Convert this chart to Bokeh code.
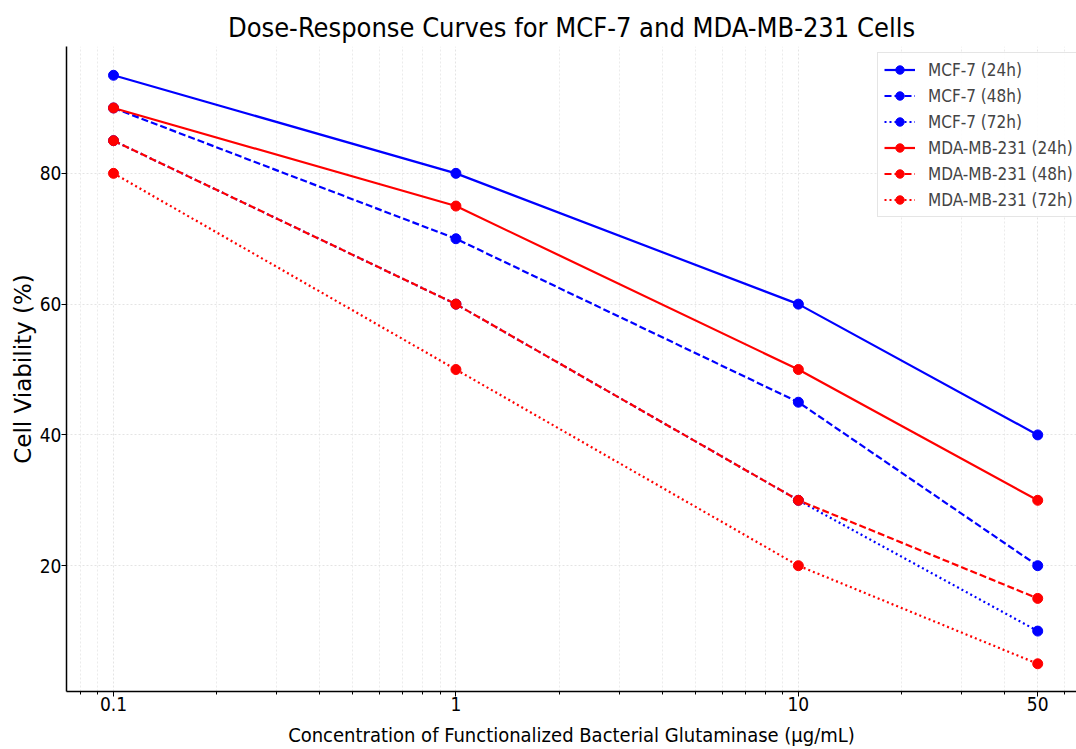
from bokeh.plotting import figure
from bokeh.models import FixedTicker, Legend, LegendItem, Range1d
from bokeh.embed import file_html
from bokeh.resources import INLINE

concentrations = [0.1, 1, 10, 50]
mcf7_24h = [95, 80, 60, 40]
mcf7_48h = [90, 70, 45, 20]
mcf7_72h = [85, 60, 30, 10]
mda_24h = [90, 75, 50, 30]
mda_48h = [85, 60, 30, 15]
mda_72h = [80, 50, 20, 5]

x_ticks = [0.1, 1, 10, 50]
x_tick_labels = ["0.1", "1", "10", "50"]
x_minor = [0.08, 0.09, 0.2, 0.3, 0.4, 0.5, 0.6, 0.7, 0.8, 0.9,
           2, 3, 4, 5, 6, 7, 8, 9, 20, 30, 40, 60]
y_ticks = [20, 40, 60, 80]

series = [
    ("MCF-7 (24h)", mcf7_24h, "#0000ff", "solid"),
    ("MCF-7 (48h)", mcf7_48h, "#0000ff", "7 3"),
    ("MCF-7 (72h)", mcf7_72h, "#0000ff", "2 3"),
    ("MDA-MB-231 (24h)", mda_24h, "#ff0000", "solid"),
    ("MDA-MB-231 (48h)", mda_48h, "#ff0000", "7 3"),
    ("MDA-MB-231 (72h)", mda_72h, "#ff0000", "2 3"),
]

FONT = "DejaVu Sans Condensed"
FONT_V = "DejaVu Sans"

p = figure(width=1076, height=749, x_axis_type="log",
           x_range=Range1d(0.0729, 64.9), y_range=Range1d(0.76, 99.4),
           output_backend="svg", toolbar_location=None,
           title="Dose-Response Curves for MCF-7 and MDA-MB-231 Cells",
           min_border_left=66, min_border_top=46, min_border_right=0,
           min_border_bottom=57)

p.title.text_font = FONT
p.title.text_font_size = "27px"
p.title.text_font_style = "normal"
p.title.align = "center"
p.title.text_color = "#000000"
p.title.standoff = 8

p.outline_line_color = None

items = []
for label, ys, color, dash in series:
    r1 = p.line(concentrations, ys, line_color=color, line_width=2.2, line_dash=dash)
    r2 = p.scatter(concentrations, ys, size=10, fill_color=color, line_color=color)
    items.append(LegendItem(label=label, renderers=[r1, r2]))

legend = Legend(items=items, location=(811, 474))
legend.label_text_font = FONT
legend.label_text_font_size = "17px"
legend.glyph_width = 31
legend.glyph_height = 21
legend.label_height = 21
legend.spacing = 5
legend.padding = 6
legend.margin = 0
legend.border_line_color = "#cccccc"
legend.border_line_width = 1
legend.background_fill_alpha = 0.9
legend.label_standoff = 13
p.add_layout(legend)

p.xaxis.ticker = FixedTicker(ticks=x_ticks, minor_ticks=x_minor)
p.xaxis.major_label_overrides = {t: l for t, l in zip(x_ticks, x_tick_labels)}
p.yaxis.ticker = FixedTicker(ticks=y_ticks)

for ax in (p.xaxis, p.yaxis):
    ax.axis_line_color = "#000000"
    ax.axis_line_width = 1.5
    ax.major_tick_line_color = "#000000"
    ax.minor_tick_line_color = "#000000"
    ax.major_tick_out = 5
    ax.major_tick_in = 0
    ax.minor_tick_out = 3
    ax.minor_tick_in = 0
    ax.major_label_text_font = FONT
    ax.major_label_text_font_size = "19px"
    ax.major_label_text_color = "#000000"
    ax.axis_label_text_font = FONT
    ax.axis_label_text_font_size = "20px"
    ax.axis_label_text_font_style = "normal"
    ax.axis_label_text_color = "#000000"

p.xaxis.axis_label = "Concentration of Functionalized Bacterial Glutaminase (μg/mL)"
p.xaxis.major_label_standoff = 0
p.xaxis.axis_label_standoff = 9
p.yaxis.axis_label = "Cell Viability (%)"
p.yaxis.axis_label_text_font = FONT_V
p.yaxis.axis_label_text_font_size = "23px"
p.yaxis.major_label_standoff = 0
p.yaxis.axis_label_standoff = 1
p.yaxis.minor_tick_line_color = None

p.xgrid.grid_line_color = "#dddddd"
p.xgrid.grid_line_dash = "2 2"
p.xgrid.grid_line_width = 0.8
p.xgrid.minor_grid_line_color = "#e6e6e6"
p.xgrid.minor_grid_line_dash = "2 2"
p.xgrid.minor_grid_line_width = 0.8
p.ygrid.grid_line_color = "#dddddd"
p.ygrid.grid_line_dash = "2 2"
p.ygrid.grid_line_width = 0.8

open("out.html", "w").write(file_html(p, INLINE))
